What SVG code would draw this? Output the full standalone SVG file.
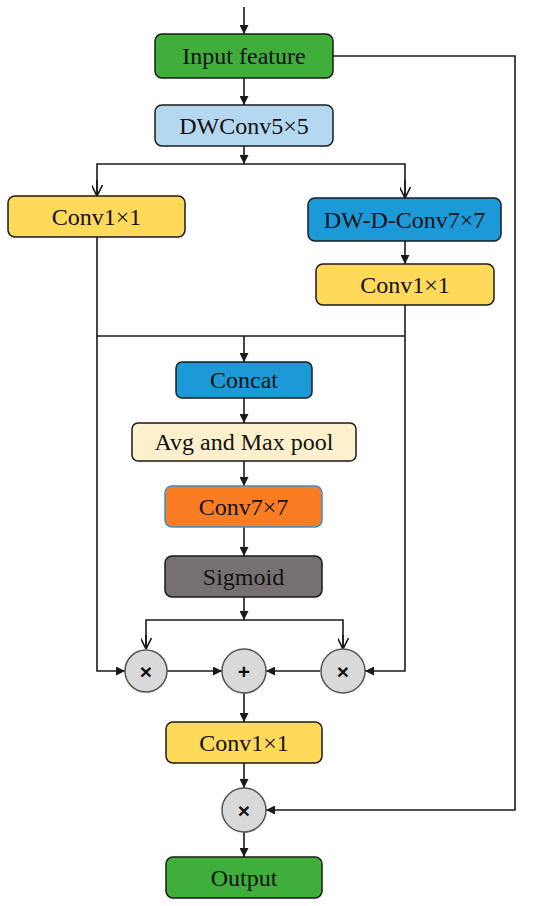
<svg xmlns="http://www.w3.org/2000/svg" width="550" height="906" viewBox="0 0 550 906">
<defs>
<style>
.box{stroke:#1a1a1a;stroke-width:1.5}
.lbl{font-family:"Liberation Serif","DejaVu Serif",serif;font-size:24px;fill:#111;text-anchor:middle;dominant-baseline:central}
.op{fill:#d9d9d9;stroke:#555;stroke-width:1.5}
.sym{font-family:"Liberation Sans","DejaVu Sans",sans-serif;font-size:21px;font-weight:bold;fill:#111;text-anchor:middle;dominant-baseline:central}
.ln{fill:none;stroke:#1a1a1a;stroke-width:1.6}
</style>
<marker id="ah" viewBox="0 0 10 10" refX="10" refY="5" markerWidth="9" markerHeight="9" orient="auto" markerUnits="userSpaceOnUse">
<path d="M0,0 L10,5 L0,10 Z" fill="#1a1a1a"/>
</marker>
<marker id="av" viewBox="0 0 10 10" refX="10" refY="5" markerWidth="11" markerHeight="11" orient="auto" markerUnits="userSpaceOnUse">
<path d="M0,0 L10,5 L0,10" fill="none" stroke="#1a1a1a" stroke-width="1.5"/>
</marker>
</defs>
<rect width="550" height="906" fill="#fff"/>
<g id="connectors">
<line class="ln" x1="244" y1="7" x2="244" y2="34" marker-end="url(#ah)"/>
<line class="ln" x1="244" y1="78" x2="244" y2="105" marker-end="url(#ah)"/>
<line class="ln" x1="244" y1="146" x2="244" y2="164" marker-end="url(#ah)"/>
<polyline class="ln" points="97,196 97,164 405,164 405,198"/>
<line class="ln" x1="97" y1="180" x2="97" y2="196" marker-end="url(#av)"/>
<line class="ln" x1="405" y1="180" x2="405" y2="198" marker-end="url(#av)"/>
<line class="ln" x1="405" y1="241" x2="405" y2="264" marker-end="url(#ah)"/>
<polyline class="ln" points="333,56 515,56 515,810 266,810" marker-end="url(#ah)"/>
<polyline class="ln" points="97,237 97,671 125,671" marker-end="url(#ah)"/>
<polyline class="ln" points="405,305 405,671 365,671" marker-end="url(#ah)"/>
<line class="ln" x1="97" y1="336" x2="405" y2="336"/>
<line class="ln" x1="244" y1="336" x2="244" y2="362" marker-end="url(#ah)"/>
<line class="ln" x1="244" y1="398" x2="244" y2="423" marker-end="url(#ah)"/>
<line class="ln" x1="244" y1="461" x2="244" y2="486" marker-end="url(#ah)"/>
<line class="ln" x1="244" y1="527" x2="244" y2="556" marker-end="url(#ah)"/>
<line class="ln" x1="244" y1="597" x2="244" y2="620" marker-end="url(#ah)"/>
<polyline class="ln" points="146,649 146,620 343,620 343,649"/>
<line class="ln" x1="146" y1="635" x2="146" y2="649" marker-end="url(#av)"/>
<line class="ln" x1="343" y1="635" x2="343" y2="649" marker-end="url(#av)"/>
<line class="ln" x1="167" y1="671" x2="222" y2="671" marker-end="url(#ah)"/>
<line class="ln" x1="320" y1="671" x2="266" y2="671" marker-end="url(#ah)"/>
<line class="ln" x1="244" y1="693" x2="244" y2="722" marker-end="url(#ah)"/>
<line class="ln" x1="244" y1="763" x2="244" y2="788" marker-end="url(#ah)"/>
<line class="ln" x1="244" y1="832" x2="244" y2="857" marker-end="url(#ah)"/>
</g>
<g id="input"><rect class="box" x="155" y="34" width="178" height="44" rx="7" fill="#3fae3a"/><text class="lbl" x="244" y="56">Input feature</text></g>
<g id="dwconv5"><rect class="box" x="155" y="105" width="178" height="41" rx="7" fill="#b4d8f0"/><text class="lbl" x="244" y="125.5">DWConv5×5</text></g>
<g id="conv1l"><rect class="box" x="8" y="196" width="177" height="41" rx="7" fill="#ffd95a"/><text class="lbl" x="96.5" y="216.5">Conv1×1</text></g>
<g id="dwdconv"><rect class="box" x="308" y="198" width="193" height="43" rx="7" fill="#1c9ad8"/><text class="lbl" x="404.5" y="219.5">DW-D-Conv7×7</text></g>
<g id="conv1r"><rect class="box" x="316" y="264" width="178" height="41" rx="7" fill="#ffd95a"/><text class="lbl" x="405" y="284.5">Conv1×1</text></g>
<g id="concat"><rect class="box" x="176" y="362" width="136" height="36" rx="6" fill="#1c9ad8"/><text class="lbl" x="244" y="380">Concat</text></g>
<g id="pool"><rect class="box" x="132" y="423" width="224" height="38" rx="6" fill="#fdf0cc"/><text class="lbl" x="244" y="442">Avg and Max pool</text></g>
<g id="conv7"><rect x="165" y="486" width="157" height="41" rx="7" fill="#fb7d23" stroke="#3a8fc8" stroke-width="1.5"/><text class="lbl" x="243.5" y="506.5">Conv7×7</text></g>
<g id="sigmoid"><rect class="box" x="165" y="556" width="157" height="41" rx="7" fill="#777070"/><text class="lbl" x="243.5" y="576.5">Sigmoid</text></g>
<g id="mul1"><circle class="op" cx="146" cy="671" r="21"/><text class="sym" x="146" y="671">×</text></g>
<g id="add"><circle class="op" cx="244" cy="671" r="22"/><text class="sym" x="244" y="671">+</text></g>
<g id="mul2"><circle class="op" cx="343" cy="671" r="22"/><text class="sym" x="343" y="671">×</text></g>
<g id="conv1b"><rect class="box" x="166" y="722" width="156" height="41" rx="7" fill="#ffd95a"/><text class="lbl" x="244" y="742.5">Conv1×1</text></g>
<g id="mul3"><circle class="op" cx="244" cy="810" r="22"/><text class="sym" x="244" y="810">×</text></g>
<g id="output"><rect class="box" x="166" y="857" width="156" height="41" rx="7" fill="#3fae3a"/><text class="lbl" x="244" y="877.5">Output</text></g>
</svg>
